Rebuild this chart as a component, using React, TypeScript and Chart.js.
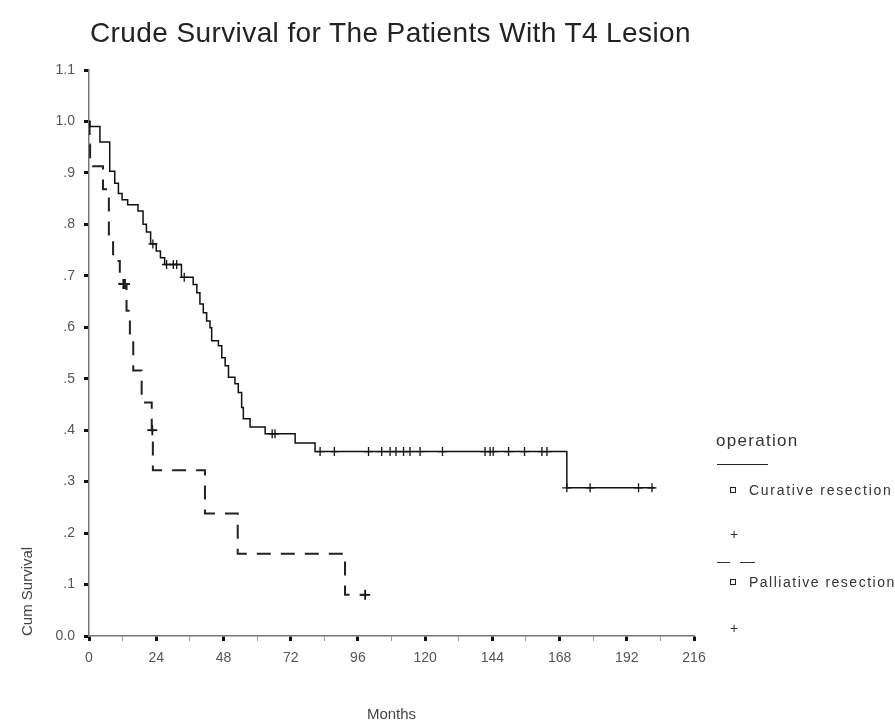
import React, { useEffect, useRef } from 'react';
import { Chart, registerables } from 'chart.js';

Chart.register(...registerables);

// Kaplan–Meier step data (months, cumulative survival)
const curativeMonths = [0, 0.3, 3.9, 7.4, 9.2, 10.5, 11.8, 13.8, 17.5, 19.3, 20.5, 22.0, 24.0, 25.5, 27.0, 33.0, 37.2, 38.5, 39.6, 40.8, 42.0, 43.2, 43.8, 46.2, 47.4, 48.6, 49.8, 52.1, 53.3, 54.5, 55.1, 57.5, 62.9, 73.6, 80.7, 170.6, 202.1];
const curativeSurvival = [1.0, 0.99, 0.96, 0.903, 0.88, 0.86, 0.848, 0.838, 0.826, 0.8, 0.785, 0.762, 0.748, 0.735, 0.722, 0.697, 0.683, 0.667, 0.645, 0.628, 0.612, 0.599, 0.574, 0.564, 0.541, 0.525, 0.503, 0.49, 0.473, 0.444, 0.422, 0.406, 0.393, 0.375, 0.3585, 0.288, 0.288];

const curativeCensorMonths = [22.8, 27.7, 30.1, 31.3, 34.0, 65.4, 66.4, 82.5, 87.6, 99.8, 104.5, 107.5, 109.6, 112.3, 114.6, 118.2, 126.2, 141.4, 143.2, 144.3, 149.8, 155.5, 161.7, 163.5, 170.6, 178.9, 196.2, 201.0];
const curativeCensorSurvival = [0.762, 0.722, 0.722, 0.722, 0.697, 0.393, 0.393, 0.3585, 0.3585, 0.3585, 0.3585, 0.3585, 0.3585, 0.3585, 0.3585, 0.3585, 0.3585, 0.3585, 0.3585, 0.3585, 0.3585, 0.3585, 0.3585, 0.3585, 0.288, 0.288, 0.288, 0.288];

const palliativeMonths = [0, 0.2, 0.4, 5.0, 7.1, 8.6, 11.0, 13.4, 14.6, 15.8, 18.8, 22.4, 22.8, 41.4, 53.1, 91.4, 98.6];
const palliativeSurvival = [1.0, 0.955, 0.913, 0.868, 0.777, 0.729, 0.684, 0.632, 0.574, 0.516, 0.454, 0.4, 0.322, 0.238, 0.16, 0.08, 0.08];

const palliativeCensorMonths = [12.25, 12.85, 22.6, 98.6];
const palliativeCensorSurvival = [0.684, 0.684, 0.4, 0.08];

const xTickValues = [0, 24, 48, 72, 96, 120, 144, 168, 192, 216];
const yTickLabels = ['0.0', '.1', '.2', '.3', '.4', '.5', '.6', '.7', '.8', '.9', '1.0', '1.1'];

const titleText = 'Crude Survival for The Patients With T4 Lesion';
const xTitle = 'Months';
const yTitle = 'Cum Survival';
const legendTitle = 'operation';
const seriesNames = ['Curative resection', 'Palliative resection'];

const FONT = '"Liberation Sans", Arial, sans-serif';

const pts = (xs: number[], ys: number[]) => xs.map((x, i) => ({ x, y: ys[i] }));

export default function App() {
  const canvasRef = useRef<HTMLCanvasElement | null>(null);

  useEffect(() => {
    if (!canvasRef.current) return;
    const chart = new Chart(canvasRef.current, {
      type: 'line',
      data: {
        datasets: [
          {
            label: seriesNames[0],
            data: pts(curativeMonths, curativeSurvival),
            stepped: 'before',
            borderColor: '#111',
            borderWidth: 1.5,
            pointRadius: 0,
            fill: false,
          },
          {
            label: seriesNames[0] + ' censored',
            data: pts(curativeCensorMonths, curativeCensorSurvival),
            showLine: false,
            pointStyle: 'cross',
            pointRadius: 4.5,
            pointBorderColor: '#111',
            pointBorderWidth: 1.3,
            borderColor: '#111',
          },
          {
            label: seriesNames[1],
            data: pts(palliativeMonths, palliativeSurvival),
            stepped: 'before',
            borderColor: '#222',
            borderWidth: 2,
            borderDash: [14, 10],
            pointRadius: 0,
            fill: false,
          },
          {
            label: seriesNames[1] + ' censored',
            data: pts(palliativeCensorMonths, palliativeCensorSurvival),
            showLine: false,
            pointStyle: 'cross',
            pointRadius: 5,
            pointBorderColor: '#111',
            pointBorderWidth: 1.8,
            borderColor: '#111',
          },
        ],
      },
      options: {
        responsive: false,
        animation: false,
        layout: { padding: { left: 0, right: 201, top: 70, bottom: 0 } },
        plugins: {
          legend: { display: false },
          tooltip: { enabled: false },
          title: { display: false },
        },
        scales: {
          x: {
            type: 'linear',
            min: 0,
            max: 216,
            afterFit: (s: any) => { s.height = 88; },
            border: { display: true, color: '#777', width: 1.5 },
            grid: {
              display: true,
              drawOnChartArea: false,
              drawTicks: true,
              tickLength: 5,
              tickColor: (ctx: any) => (ctx.tick && xTickValues.includes(ctx.tick.value) ? '#111' : '#999'),
              tickWidth: (ctx: any) => (ctx.tick && xTickValues.includes(ctx.tick.value) ? 3 : 1),
            },
            ticks: {
              stepSize: 12,
              autoSkip: false,
              maxRotation: 0,
              padding: 9,
              color: '#555',
              font: { family: FONT, size: 14 },
              callback: (v: any) => (xTickValues.includes(Number(v)) ? String(v) : ''),
            },
            title: {
              display: true,
              text: xTitle,
              color: '#444',
              font: { family: FONT, size: 15 },
              padding: { top: 0, bottom: 0 },
            },
          },
          y: {
            type: 'linear',
            min: 0,
            max: 1.1,
            afterFit: (s: any) => { s.width = 89; },
            border: { display: true, color: '#777', width: 1.5 },
            grid: {
              display: true,
              drawOnChartArea: false,
              drawTicks: true,
              tickLength: 5,
              tickColor: '#111',
              tickWidth: 3,
            },
            ticks: {
              stepSize: 0.1,
              autoSkip: false,
              padding: 9,
              color: '#555',
              font: { family: FONT, size: 14 },
              callback: (_v: any, i: number) => yTickLabels[i] ?? '',
            },
            title: {
              display: true,
              text: yTitle,
              align: 'start',
              color: '#444',
              font: { family: FONT, size: 15 },
              padding: { top: 19, bottom: 0 },
            },
          },
        },
      } as any,
    });
    return () => chart.destroy();
  }, []);

  const txt: React.CSSProperties = { position: 'absolute', fontFamily: FONT, color: '#333', whiteSpace: 'nowrap' };

  return (
    <div style={{ position: 'fixed', left: 0, top: 0, width: 895, height: 724, background: '#fff', overflow: 'hidden' }}>
      <canvas ref={canvasRef} width={895} height={724} style={{ position: 'absolute', left: 0, top: 0, width: 895, height: 724 }} />
      <div style={{ ...txt, left: 0, width: 781, top: 17, textAlign: 'center', fontSize: 28, lineHeight: '32px', letterSpacing: '0.4px', color: '#222' }}>{titleText}</div>

      <div style={{ ...txt, left: 716, top: 431, fontSize: 17, lineHeight: '20px', letterSpacing: '1.3px' }}>{legendTitle}</div>
      <div style={{ position: 'absolute', left: 717, top: 464, width: 51, height: 0, borderTop: '1.5px solid #222' }} />
      <div style={{ position: 'absolute', left: 730, top: 487, width: 4, height: 4, border: '1.5px solid #222' }} />
      <div style={{ ...txt, left: 749, top: 481, fontSize: 14, lineHeight: '18px', letterSpacing: '1.7px' }}>{seriesNames[0]}</div>
      <div style={{ ...txt, left: 730, top: 525, fontSize: 14, lineHeight: '18px' }}>+</div>

      <div style={{ position: 'absolute', left: 717, top: 562, width: 13, height: 0, borderTop: '1.5px solid #333' }} />
      <div style={{ position: 'absolute', left: 740, top: 562, width: 15, height: 0, borderTop: '1.5px solid #333' }} />
      <div style={{ position: 'absolute', left: 730, top: 579, width: 4, height: 4, border: '1.5px solid #222' }} />
      <div style={{ ...txt, left: 749, top: 573, fontSize: 14, lineHeight: '18px', letterSpacing: '1.5px' }}>{seriesNames[1]}</div>
      <div style={{ ...txt, left: 730, top: 619, fontSize: 14, lineHeight: '18px' }}>+</div>
    </div>
  );
}
